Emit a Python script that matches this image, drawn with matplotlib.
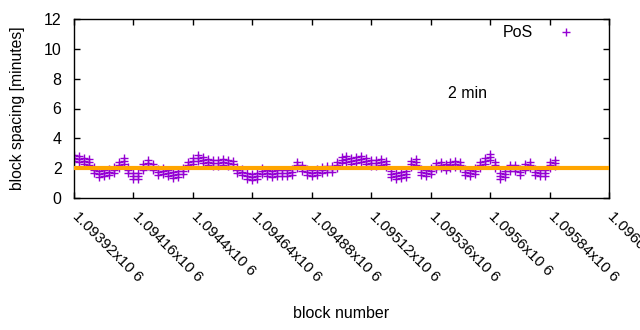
import numpy as np
import matplotlib
matplotlib.use("Agg")
import matplotlib.pyplot as plt
from matplotlib.transforms import ScaledTranslation

plt.rcParams['font.family'] = ['Liberation Sans', 'DejaVu Sans']

# block numbers (every 20 blocks) and block spacing [minutes]
blocks = np.arange(1093920, 1095880, 20)
spacing_mid = [2.7,2.6,2.45,2.4,1.9,1.6,1.7,1.75,1.85,2.2,
               2.45,1.9,1.45,1.5,2.1,2.35,2.1,1.75,1.8,1.7,
               1.55,1.6,1.8,2.2,2.45,2.65,2.55,2.4,2.35,2.35,
               2.4,2.35,2.3,1.85,1.75,1.5,1.4,1.5,1.8,1.7,
               1.6,1.7,1.65,1.7,1.75,2.2,2.0,1.75,1.7,1.75,
               1.9,1.95,1.95,2.2,2.55,2.6,2.5,2.55,2.6,2.45,
               2.35,2.35,2.4,2.3,1.6,1.5,1.55,1.6,2.3,2.4,
               1.75,1.65,1.8,2.15,2.2,2.1,2.2,2.3,2.2,1.75,
               1.7,1.8,2.2,2.5,2.75,2.2,1.5,1.6,2.0,2.0,
               1.75,2.1,2.2,1.75,1.7,1.7,2.2,2.35]
spacing_upper = [2.9,2.8,2.65,2.6,2.1,1.8,1.9,1.95,2.05,2.4,
                 2.65,2.1,1.65,1.7,2.3,2.55,2.3,1.95,2.0,1.9,
                 1.75,1.8,2.0,2.4,2.65,2.85,2.75,2.6,2.55,2.55,
                 2.6,2.55,2.5,2.05,1.95,1.7,1.6,1.7,2.0,1.9,
                 1.8,1.9,1.85,1.9,1.95,2.4,2.2,1.95,1.9,1.95,
                 2.1,2.15,2.15,2.4,2.75,2.8,2.7,2.75,2.8,2.65,
                 2.55,2.55,2.6,2.5,1.8,1.7,1.75,1.8,2.5,2.6,
                 1.95,1.85,2.0,2.35,2.4,2.3,2.4,2.5,2.4,1.95,
                 1.9,2.0,2.4,2.7,2.95,2.4,1.7,1.8,2.2,2.2,
                 1.95,2.3,2.4,1.95,1.9,1.9,2.4,2.55]
spacing_lower = [2.5,2.4,2.25,2.2,1.7,1.4,1.5,1.55,1.65,2.0,
                 2.25,1.7,1.25,1.3,1.9,2.15,1.9,1.55,1.6,1.5,
                 1.35,1.4,1.6,2.0,2.25,2.45,2.35,2.2,2.15,2.15,
                 2.2,2.15,2.1,1.65,1.55,1.3,1.2,1.3,1.6,1.5,
                 1.4,1.5,1.45,1.5,1.55,2.0,1.8,1.55,1.5,1.55,
                 1.7,1.75,1.75,2.0,2.35,2.4,2.3,2.35,2.4,2.25,
                 2.15,2.15,2.2,2.1,1.4,1.3,1.35,1.4,2.1,2.2,
                 1.55,1.45,1.6,1.95,2.0,1.9,2.0,2.1,2.0,1.55,
                 1.5,1.6,2.0,2.3,2.55,2.0,1.3,1.4,1.8,1.8,
                 1.55,1.9,2.0,1.55,1.5,1.5,2.0,2.15]

target_minutes = 2
x_ticks = [1093920, 1094160, 1094400, 1094640, 1094880, 1095120,
           1095360, 1095600, 1095840, 1096080]
x_tick_labels = ["1.09392x10 6", "1.09416x10 6", "1.0944x10 6", "1.09464x10 6",
                 "1.09488x10 6", "1.09512x10 6", "1.09536x10 6", "1.0956x10 6",
                 "1.09584x10 6", "1.09608x10 6"]
y_ticks = [0, 2, 4, 6, 8, 10, 12]

purple = '#9400D3'
orange = '#FFA500'
fs = 11.5

fig = plt.figure(figsize=(6.4, 3.3), dpi=100)
ax = fig.add_axes([74/640, 1-198/330, (609-74)/640, (198-19)/330])

all_x = np.concatenate([blocks, blocks, blocks])
all_y = np.concatenate([spacing_upper, spacing_mid, spacing_lower])
ax.plot(all_x, all_y, linestyle='none', marker='+', color=purple,
        markersize=5.5, markeredgewidth=1.0, label='PoS', zorder=2)
ax.axhline(target_minutes, color=orange, linewidth=3, zorder=3)

ax.set_xlim(x_ticks[0], x_ticks[-1])
ax.set_ylim(0, 12)
ax.tick_params(direction='in', length=4, width=1, top=True, right=True)
ax.tick_params(axis='y', pad=9)
ax.tick_params(axis='x', pad=8)
ax.set_xticks(x_ticks)
ax.set_xticklabels(x_tick_labels, rotation=-45, ha='left', va='top',
                   rotation_mode='anchor', fontsize=11)
shift = ScaledTranslation(6/100, 0, fig.dpi_scale_trans)
for lab in ax.get_xticklabels():
    lab.set_transform(lab.get_transform() + shift)
ax.set_yticks(y_ticks)
ax.set_yticklabels([str(v) for v in y_ticks], fontsize=fs)
for s in ax.spines.values():
    s.set_linewidth(1)

ax.set_xlabel('block number', fontsize=fs)
ax.xaxis.set_label_coords(0.5, (198-306)/179, transform=ax.transAxes)
ax.set_ylabel('block spacing [minutes]', fontsize=11.3)
ax.yaxis.set_label_coords(-(74-25.5)/535, 0.5)

ax.text((468-74)/535, (198-93)/179, '2 min', transform=ax.transAxes,
        fontsize=fs, ha='center', va='center')

leg = ax.legend(loc='upper right', frameon=False, markerfirst=False,
                fontsize=fs, handlelength=2.2, handletextpad=0.96,
                bbox_to_anchor=((590-74)/535, 1.0), borderaxespad=0.0)

fig.savefig('out.png', dpi=100)
